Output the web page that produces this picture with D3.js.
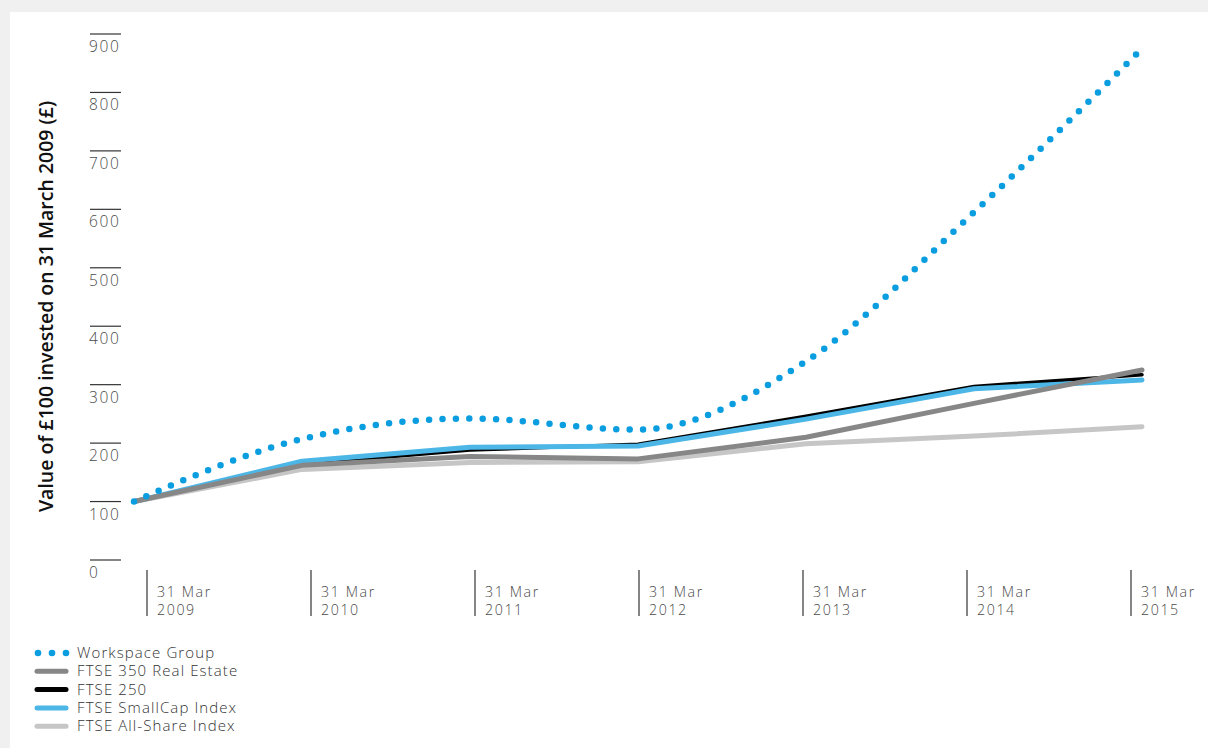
<!DOCTYPE html>
<html>
<head>
<meta charset="utf-8">
<script src="https://cdn.jsdelivr.net/npm/d3@7"></script>
<style>
  html, body { margin: 0; padding: 0; background: #f0f0f0; }
  svg { display: block; }
  text { font-family: "Open Sans", "Lato", sans-serif; }
</style>
</head>
<body>
<svg id="chart" width="1208" height="748"></svg>
<script>
const years = ["2009", "2010", "2011", "2012", "2013", "2014", "2015"];
const tickLabels = ["31 Mar", "31 Mar", "31 Mar", "31 Mar", "31 Mar", "31 Mar", "31 Mar"];
const yTicks = [0, 100, 200, 300, 400, 500, 600, 700, 800, 900];

const workspaceGroup = [100, 207, 242, 223, 340, 595, 875];
const ftse350RealEstate = [100, 162, 177, 173, 210, 268, 325];
const ftse250 = [100, 164, 188, 198, 246, 297, 317];
const ftseSmallCap = [100, 169, 193, 195, 241, 293, 308];
const ftseAllShare = [100, 155, 167, 168, 199, 212, 228];

const seriesNames = ["Workspace Group", "FTSE 350 Real Estate", "FTSE 250", "FTSE SmallCap Index", "FTSE All-Share Index"];

const svg = d3.select("#chart");
svg.append("rect").attr("x", 10).attr("y", 12).attr("width", 1198).attr("height", 736).attr("fill", "#fff");

const y = d3.scaleLinear().domain([0, 900]).range([560, 34]);
const xData = d3.scalePoint().domain(years).range([134, 1142]);
const xTick = d3.scalePoint().domain(years).range([147, 1131]);

// Y axis ticks
const yAxis = svg.append("g");
yTicks.forEach(v => {
  yAxis.append("line").attr("x1", 90).attr("x2", 121).attr("y1", y(v)).attr("y2", y(v))
    .attr("stroke", "#333").attr("stroke-width", 1.2);
  yAxis.append("text").attr("x", 89).attr("y", y(v) + 18).text(v)
    .attr("font-size", 15.5).attr("letter-spacing", 1.6).attr("fill", "#4a4a4a").attr("font-weight", 300);
});

// X axis ticks
const xAxis = svg.append("g");
years.forEach((yr, i) => {
  const xx = xTick(yr);
  xAxis.append("line").attr("x1", xx).attr("x2", xx).attr("y1", 570).attr("y2", 616)
    .attr("stroke", "#333").attr("stroke-width", 1.2);
  xAxis.append("text").attr("x", xx + 10).attr("y", 597).text(tickLabels[i])
    .attr("font-size", 14.2).attr("letter-spacing", 1.6).attr("fill", "#4a4a4a").attr("font-weight", 300);
  xAxis.append("text").attr("x", xx + 10).attr("y", 615).text(yr)
    .attr("font-size", 14.2).attr("letter-spacing", 1.6).attr("fill", "#4a4a4a").attr("font-weight", 300);
});

// Y axis title
svg.append("text")
  .attr("transform", "translate(52.5,306.5) rotate(-90)")
  .attr("text-anchor", "middle")
  .attr("font-size", 19.5).attr("font-weight", 600).attr("fill", "#111")
  .text("Value of £100 invested on 31 March 2009 (£)");

const line = d3.line().x((d, i) => xData(years[i])).y(d => y(d));
const smooth = d3.line().x((d, i) => xData(years[i])).y(d => y(d)).curve(d3.curveMonotoneX);

const lines = [
  { data: ftseAllShare, color: "#c6c6c6", w: 5 },
  { data: ftse250, color: "#000000", w: 3.5 },
  { data: ftseSmallCap, color: "#4cb6e6", w: 5 },
  { data: ftse350RealEstate, color: "#878787", w: 5 },
];
lines.forEach(s => {
  svg.append("path").attr("d", line(s.data)).attr("fill", "none")
    .attr("stroke", s.color).attr("stroke-width", s.w)
    .attr("stroke-linecap", "round").attr("stroke-linejoin", "round");
});
svg.append("path").attr("d", smooth(workspaceGroup)).attr("fill", "none")
  .attr("stroke", "#0a9de0").attr("stroke-width", 6.5)
  .attr("stroke-linecap", "round").attr("stroke-dasharray", "0 13.4");

// Legend
const legend = svg.append("g");
const legendStyles = [
  { color: "#0a9de0", dots: true },
  { color: "#878787", w: 5 },
  { color: "#000000", w: 5 },
  { color: "#4cb6e6", w: 5 },
  { color: "#c6c6c6", w: 5 },
];
seriesNames.forEach((name, i) => {
  const yy = 653 + i * 18.3;
  const st = legendStyles[i];
  if (st.dots) {
    [38, 52, 66].forEach(cx => legend.append("circle").attr("cx", cx).attr("cy", yy).attr("r", 3.3).attr("fill", st.color));
  } else {
    legend.append("line").attr("x1", 37).attr("x2", 66).attr("y1", yy).attr("y2", yy)
      .attr("stroke", st.color).attr("stroke-width", st.w).attr("stroke-linecap", "round");
  }
  legend.append("text").attr("x", 77).attr("y", yy + 5).text(name)
    .attr("font-size", 15).attr("letter-spacing", 1.1).attr("fill", "#333").attr("font-weight", 300);
});
</script>
</body>
</html>
